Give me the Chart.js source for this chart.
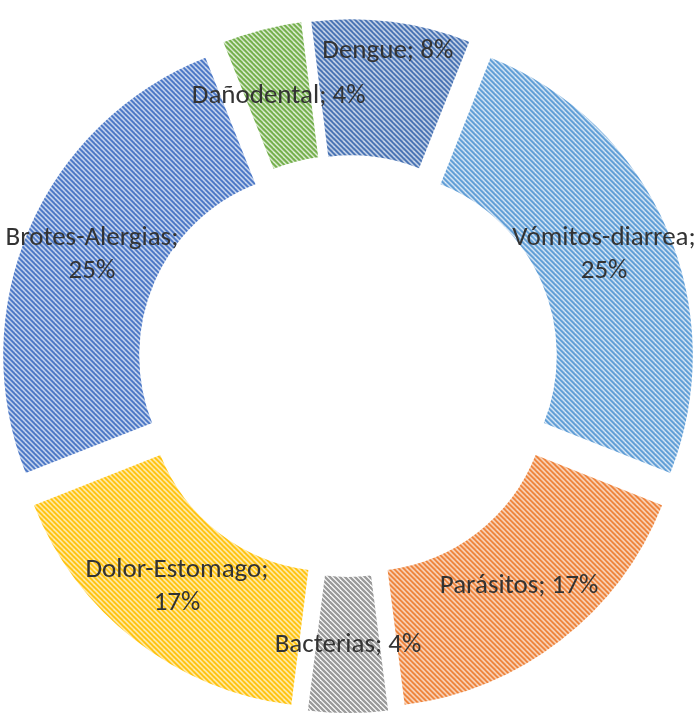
<!DOCTYPE html>
<html>
<head>
<meta charset="utf-8">
<script src="https://cdn.jsdelivr.net/npm/chart.js@4.4.1/dist/chart.umd.min.js"></script>
<style>
  body { margin: 0; background: #fff; }
  #wrap { width: 696px; height: 714px; }
</style>
</head>
<body>
<div id="wrap"><canvas id="grafico"></canvas></div>
<script>
const categorias = ['Dengue', 'Vómitos-diarrea', 'Parásitos', 'Bacterias', 'Dolor-Estomago', 'Brotes-Alergias', 'Dañodental'];
const porcentajes = [8, 25, 17, 4, 17, 25, 4];
const coloresRaya = ['#3f6cb0', '#5b9bd5', '#ed7d31', '#9a9a9a', '#ffc000', '#4472c4', '#70ad47'];

const separacion = 27; // cuánto se separa cada porción del centro
const radioEtiqueta = [0.78, 0.5, 0.5, 0.5, 0.5, 0.5, 0.5];

// relleno de rayas diagonales como el de Excel
function rayado(color) {
  const c = document.createElement('canvas');
  c.width = 10;
  c.height = 10;
  const g = c.getContext('2d');
  g.strokeStyle = color;
  g.lineWidth = 2.3;
  for (let k = -2; k <= 2; k++) {
    g.beginPath();
    g.moveTo(k * 5 - 1, -1);
    g.lineTo(k * 5 + 11, 11);
    g.stroke();
  }
  return g.createPattern(c, 'repeat');
}

const explotar = {
  id: 'explotar',
  beforeDatasetDraw(chart, args) {
    const ctx = chart.ctx;
    args.meta.data.forEach(arco => {
      const medio = (arco.startAngle + arco.endAngle) / 2;
      ctx.save();
      ctx.translate(Math.cos(medio) * separacion, Math.sin(medio) * separacion);
      arco.draw(ctx);
      ctx.restore();
    });
    return false;
  },
  afterDatasetsDraw(chart) {
    const ctx = chart.ctx;
    const meta = chart.getDatasetMeta(0);
    ctx.save();
    ctx.font = '27px Carlito, Lato, sans-serif';
    ctx.fillStyle = '#333333';
    ctx.textAlign = 'center';
    ctx.textBaseline = 'middle';
    meta.data.forEach((arco, i) => {
      const medio = (arco.startAngle + arco.endAngle) / 2;
      const r = arco.innerRadius + radioEtiqueta[i] * (arco.outerRadius - arco.innerRadius) + separacion;
      const x = arco.x + Math.cos(medio) * r;
      const y = arco.y + Math.sin(medio) * r;
      const nombre = categorias[i] + ';';
      const valor = porcentajes[i] + '%';
      const lineas = categorias[i].length > 12 ? [nombre, valor] : [nombre + ' ' + valor];
      lineas.forEach((t, j) => {
        ctx.fillText(t, x, y + (j - (lineas.length - 1) / 2) * 33);
      });
    });
    ctx.restore();
  }
};

new Chart(document.getElementById('grafico'), {
  type: 'doughnut',
  data: {
    labels: categorias,
    datasets: [{
      data: porcentajes,
      backgroundColor: coloresRaya.map(rayado),
      borderWidth: 0
    }]
  },
  options: {
    responsive: true,
    maintainAspectRatio: false,
    animation: false,
    rotation: -7.2,
    cutout: '57.5%',
    radius: 320,
    layout: { padding: { top: 18 } },
    events: [],
    plugins: {
      legend: { display: false },
      tooltip: { enabled: false }
    }
  },
  plugins: [explotar]
});
</script>
</body>
</html>
